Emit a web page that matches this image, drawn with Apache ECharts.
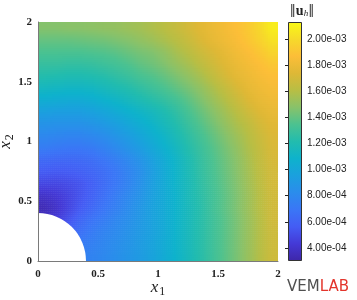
<!DOCTYPE html>
<html><head><meta charset="utf-8">
<script src="https://cdn.jsdelivr.net/npm/echarts@6/dist/echarts.min.js"></script>
<style>html,body{margin:0;padding:0;background:#fff}#c{width:357px;height:300px}</style>
</head><body><div id="c"></div>
<script>
// ---- data (field values in units of 1e-4) ----
const UNIT = 1e-4;
const xCenters = [0.05,0.15,0.25,0.35,0.45,0.55,0.65,0.75,0.85,0.95,1.05,1.15,1.25,1.35,1.45,1.55,1.65,1.75,1.85,1.95];
const yCenters = [0.05,0.15,0.25,0.35,0.45,0.55,0.65,0.75,0.85,0.95,1.05,1.15,1.25,1.35,1.45,1.55,1.65,1.75,1.85,1.95];
const row00 = [null,null,null,7.5,7.7,8.0,8.4,8.8,9.2,9.7,10.3,10.9,11.6,12.3,13.0,13.7,14.4,15.2,16.0,16.8];
const row01 = [null,null,null,7.2,7.5,7.9,8.3,8.7,9.2,9.7,10.3,10.9,11.6,12.3,13.0,13.7,14.4,15.2,16.0,16.8];
const row02 = [null,null,5.9,6.6,7.2,7.7,8.1,8.6,9.1,9.6,10.2,10.9,11.6,12.3,13.0,13.7,14.4,15.2,16.0,16.8];
const row03 = [3.6,4.4,5.2,6.1,6.8,7.3,7.9,8.4,9.0,9.6,10.2,10.9,11.6,12.3,13.0,13.7,14.4,15.2,16.0,16.9];
const row04 = [3.4,3.9,4.7,5.5,6.2,6.9,7.5,8.2,8.9,9.6,10.2,10.9,11.6,12.3,13.1,13.8,14.5,15.3,16.1,16.9];
const row05 = [3.9,4.2,4.7,5.3,5.9,6.6,7.3,8.0,8.7,9.5,10.2,10.9,11.7,12.4,13.1,13.8,14.5,15.3,16.1,16.9];
const row06 = [4.8,4.8,5.0,5.3,5.8,6.4,7.0,7.7,8.5,9.4,10.2,11.0,11.7,12.5,13.2,13.9,14.6,15.4,16.2,17.0];
const row07 = [5.6,5.5,5.6,5.8,6.1,6.5,7.0,7.7,8.4,9.3,10.2,11.0,11.8,12.6,13.3,14.0,14.7,15.5,16.3,17.0];
const row08 = [6.3,6.2,6.2,6.3,6.5,6.9,7.4,8.0,8.7,9.5,10.3,11.1,11.9,12.7,13.4,14.1,14.8,15.6,16.4,17.1];
const row09 = [7.3,7.1,7.0,7.0,7.2,7.6,8.1,8.7,9.3,10.0,10.7,11.4,12.2,12.9,13.6,14.3,15.0,15.8,16.5,17.2];
const row10 = [8.0,7.9,7.8,7.8,8.0,8.3,8.8,9.3,9.9,10.5,11.1,11.8,12.5,13.2,13.9,14.6,15.3,16.0,16.7,17.3];
const row11 = [8.7,8.6,8.6,8.6,8.8,9.1,9.5,10.0,10.5,11.0,11.6,12.2,12.9,13.6,14.3,15.0,15.7,16.3,17.0,17.5];
const row12 = [9.5,9.4,9.4,9.4,9.6,9.9,10.3,10.7,11.1,11.5,12.0,12.6,13.3,14.0,14.7,15.4,16.1,16.8,17.4,17.8];
const row13 = [10.5,10.4,10.3,10.3,10.5,10.8,11.1,11.5,11.9,12.3,12.7,13.2,13.8,14.5,15.2,15.9,16.6,17.3,17.8,18.1];
const row14 = [11.4,11.3,11.2,11.2,11.3,11.6,11.9,12.2,12.6,13.0,13.4,13.9,14.4,15.0,15.7,16.4,17.1,17.7,18.1,18.4];
const row15 = [12.2,12.1,12.0,12.0,12.1,12.3,12.6,12.9,13.3,13.6,14.0,14.5,15.0,15.6,16.3,17.0,17.6,18.0,18.4,18.7];
const row16 = [12.8,12.8,12.7,12.7,12.8,13.0,13.2,13.5,13.9,14.2,14.6,15.1,15.6,16.2,16.8,17.4,17.9,18.3,18.7,19.1];
const row17 = [13.4,13.4,13.4,13.4,13.5,13.6,13.8,14.1,14.4,14.6,15.0,15.6,16.1,16.7,17.2,17.7,18.2,18.6,19.1,19.7];
const row18 = [14.0,14.0,14.0,14.1,14.2,14.3,14.5,14.7,15.0,15.3,15.7,16.1,16.6,17.2,17.7,18.1,18.5,19.0,19.6,20.3];
const row19 = [14.7,14.7,14.8,14.8,14.9,15.0,15.1,15.3,15.5,15.8,16.1,16.5,17.0,17.5,17.9,18.3,18.7,19.2,19.9,20.8];
const fieldRows = [row00,row01,row02,row03,row04,row05,row06,row07,row08,row09,row10,row11,row12,row13,row14,row15,row16,row17,row18,row19];
const hole = [[0, 0, 0.4]];           // centre x, centre y, radius
const cbMin = 3.0e-4, cbMax = 2.13e-3;
const cbTicks = [4e-4, 6e-4, 8e-4, 1.0e-3, 1.2e-3, 1.4e-3, 1.6e-3, 1.8e-3, 2.0e-3];
const parula = ['#3e26a8','#4439d6','#445cf4','#3a76f6','#2b8cec','#1ba0de','#0eb2cc','#22bcae','#4cc290','#88c26a','#b8be44','#deb836','#fcbe38','#f6da2a','#f9f916'];

// ---- rendering helpers ----
const cellSize = 0.1, SUB = 6;
const NI = xCenters.length, NJ = yCenters.length;
// fill hole cells (rendering only, covered by the white hole) from neighbours
const filled = fieldRows.map(r => r.slice());
for (let pass = 0; pass < 6; pass++) {
  for (let j = 0; j < NJ; j++) for (let i = 0; i < NI; i++) {
    if (fieldRows[j][i] != null) continue;
    let s = 0, n = 0;
    [[1,0],[-1,0],[0,1],[0,-1]].forEach(([di,dj]) => {
      const a = i + di, b = j + dj;
      if (a >= 0 && a < NI && b >= 0 && b < NJ && filled[b][a] != null) { s += filled[b][a]; n++; }
    });
    if (n) filled[j][i] = s / n;
  }
}
const rgbStops = parula.map(h => [parseInt(h.slice(1,3),16), parseInt(h.slice(3,5),16), parseInt(h.slice(5,7),16)]);
function colorOf(v) {
  let t = (v - cbMin) / (cbMax - cbMin);
  t = Math.max(0, Math.min(1, t)) * (rgbStops.length - 1);
  const k = Math.min(rgbStops.length - 2, Math.floor(t)), f = t - k;
  const a = rgbStops[k], b = rgbStops[k + 1];
  return 'rgb(' + [0,1,2].map(c => Math.round(a[c] + (b[c] - a[c]) * f)).join(',') + ')';
}
function sample(x, y) {
  let fi = (x - xCenters[0]) / cellSize, fj = (y - yCenters[0]) / cellSize;
  fi = Math.max(0, Math.min(NI - 1, fi)); fj = Math.max(0, Math.min(NJ - 1, fj));
  const i0 = Math.min(NI - 2, Math.floor(fi)), j0 = Math.min(NJ - 2, Math.floor(fj));
  const u = fi - i0, w = fj - j0;
  return ((1-u)*(1-w)*filled[j0][i0] + u*(1-w)*filled[j0][i0+1] + (1-u)*w*filled[j0+1][i0] + u*w*filled[j0+1][i0+1]) * UNIT;
}
const fieldData = [];
fieldRows.forEach((row, j) => row.forEach((v, i) => { if (v != null) fieldData.push([xCenters[i], yCenters[j], v * UNIT]); }));

const chart = echarts.init(document.getElementById('c'), null, {renderer: 'canvas'});
const serif = 'Liberation Serif';
const tickLabel = {fontFamily: serif, fontWeight: 'bold', fontSize: 11, color: '#222'};
const fmtExp = v => v.toExponential(2).replace(/e([+-])(\d)$/, 'e$10$2');
const nameRich = {i: {fontFamily: serif, fontStyle: 'italic', fontSize: 17, color: '#222'},
                  s: {fontFamily: serif, fontSize: 12, color: '#222', verticalAlign: 'bottom', padding: [8, 0, 0, 1]}};

const option = {
  animation: false,
  grid: [
    {left: 38, top: 22, width: 240, height: 239, outerBoundsMode: 'none', containLabel: false},
    {left: 288, top: 22, width: 14, height: 239, outerBoundsMode: 'none', containLabel: false}
  ],
  xAxis: [
    {type: 'value', gridIndex: 0, min: 0, max: 2, interval: 0.5, z: 10,
     axisLine: {show: true, lineStyle: {color: '#7a7a7a', width: 1}}, axisTick: {show: false}, splitLine: {show: false},
     axisLabel: Object.assign({margin: 8, formatter: v => String(v)}, tickLabel),
     name: '{i|x}{s|1}', nameLocation: 'middle', nameGap: 17, nameMoveOverlap: false, nameTextStyle: {rich: nameRich}},
    {type: 'value', gridIndex: 1, min: 0, max: 1, show: false}
  ],
  yAxis: [
    {type: 'value', gridIndex: 0, min: 0, max: 2, interval: 0.5, z: 10,
     axisLine: {show: true, lineStyle: {color: '#7a7a7a', width: 1}}, axisTick: {show: false}, splitLine: {show: false},
     axisLabel: Object.assign({margin: 6, formatter: v => String(v)}, tickLabel),
     name: '{i|x}{s|2}', nameLocation: 'middle', nameGap: 22, nameRotate: 90, nameMoveOverlap: false, nameTextStyle: {rich: nameRich}},
    {type: 'value', gridIndex: 1, min: cbMin, max: cbMax, position: 'right', z: 10,
     axisLine: {show: false}, splitLine: {show: false},
     axisTick: {show: true, inside: true, length: 3, customValues: cbTicks, lineStyle: {color: '#222'}},
     axisLabel: {customValues: cbTicks, formatter: fmtExp, margin: 5, fontFamily: 'Liberation Sans', fontSize: 10, color: '#222'}}
  ],
  graphic: [
    {type: 'text', x: 302, y: 11, z: 20, style: {
      text: '{n|‖}{b|u}{s|h}{n|‖}', align: 'center', verticalAlign: 'middle',
      rich: {n: {fontFamily: 'DejaVu Serif', fontSize: 12, fill: '#222'}, b: {fontFamily: serif, fontWeight: 'bold', fontSize: 14, fill: '#222'}, s: {fontFamily: serif, fontStyle: 'italic', fontSize: 9, fill: '#222', padding: [6, 0, 0, 0]}}}},
    {type: 'text', left: 287, top: 280, z: 20, style: {
      text: '{a|VEM}{b|LAB}',
      rich: {a: {fontFamily: 'DejaVu Sans', fontSize: 15, fill: '#505050'}, b: {fontFamily: 'DejaVu Sans', fontSize: 15, fill: '#e3352c'}}}}
  ],
  series: [
    {type: 'custom', xAxisIndex: 0, yAxisIndex: 0, clip: true, data: fieldData, z: 2,
     renderItem: (params, api) => {
       const x = api.value(0), y = api.value(1), h = cellSize / 2, d = cellSize / SUB;
       const children = [];
       for (let a = 0; a < SUB; a++) for (let b = 0; b < SUB; b++) {
         const sx = x - h + (a + 0.5) * d, sy = y - h + (b + 0.5) * d;
         const p0 = api.coord([sx - d / 2, sy + d / 2]);
         const p1 = api.coord([sx + d / 2, sy - d / 2]);
         children.push({type: 'rect', shape: {x: p0[0], y: p0[1], width: p1[0] - p0[0] + 0.5, height: p1[1] - p0[1] + 0.5},
                        style: {fill: colorOf(sample(sx, sy))}});
       }
       return {type: 'group', children};
     }},
    {type: 'custom', xAxisIndex: 0, yAxisIndex: 0, clip: true, data: hole, z: 3,
     renderItem: (params, api) => {
       const c = api.coord([api.value(0), api.value(1)]);
       const r = api.size([api.value(2), 0])[0];
       return {type: 'sector', shape: {cx: c[0], cy: c[1], r0: 0, r: r, startAngle: -Math.PI / 2, endAngle: 0, clockwise: true},
               style: {fill: '#ffffff'}};
     }},
    {type: 'custom', xAxisIndex: 1, yAxisIndex: 1, data: [[0, 1, cbMin, cbMax]], z: 3,
     renderItem: (params, api) => {
       const p0 = api.coord([api.value(0), api.value(3)]);
       const p1 = api.coord([api.value(1), api.value(2)]);
       const stops = parula.map((c, k) => ({offset: k / (parula.length - 1), color: c}));
       return {type: 'rect', shape: {x: p0[0] + 0.5, y: p0[1] + 0.5, width: p1[0] - p0[0] - 1, height: p1[1] - p0[1] - 1},
               style: {fill: new echarts.graphic.LinearGradient(0, 1, 0, 0, stops), stroke: '#333', lineWidth: 1}};
     }}
  ]
};
chart.setOption(option);
</script></body></html>
